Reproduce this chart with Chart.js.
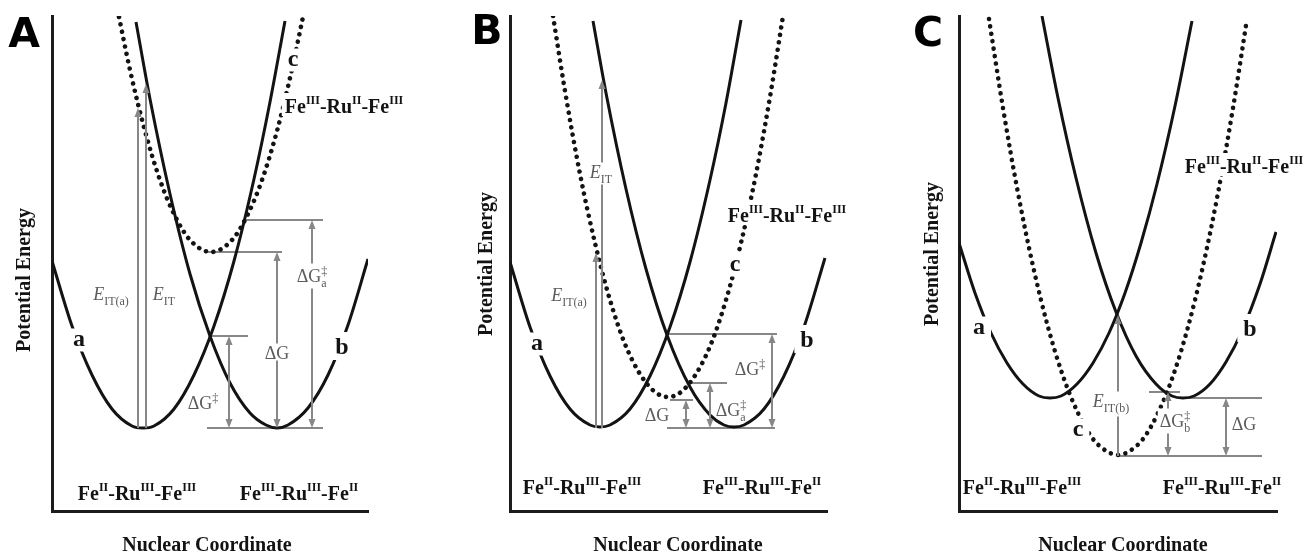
<!DOCTYPE html>
<html>
<head>
<meta charset="utf-8">
<script src="https://cdn.jsdelivr.net/npm/chart.js@4.4.1/dist/chart.umd.min.js"></script>
<style>
  html, body { margin: 0; padding: 0; background: #fff; }
  #wrap { position: relative; width: 1304px; height: 552px; overflow: hidden; background: #fff; }
  #wrap canvas { position: absolute; top: 0; }
</style>
</head>
<body>
<div id="wrap">
  <canvas id="panelA" width="440" height="552" style="left:0px"></canvas>
  <canvas id="panelB" width="440" height="552" style="left:440px"></canvas>
  <canvas id="panelC" width="424" height="552" style="left:880px"></canvas>
</div>
<script>
// energy (y) against nuclear coordinate (x), arbitrary units
var yMax = 495;

// panel A
var aCurveA = [[0,250],[20,185],[40,136],[60,102],[80,85],[91,83],[102,85],[122,102],[142,136],[162,185],[182,250],[202,332],[218,409],[233,490]];
var aCurveB = [[84,489],[98,412],[118,317],[138,237],[158,175],[178,128],[198,98],[214,86],[225,83],[236,86],[256,103],[276,136],[296,186],[316,252]];
var aCurveC = [[67,494],[78,441],[93,380],[108,331],[123,295],[138,271],[159,259],[180,271],[195,295],[210,331],[225,380],[238,433],[251,494]];
var aGuides = [[158,196,175],[155,230,259],[193,271,291],[155,271,83]];
var aArrows = [[86,83,403,'up'],[94,83,427,'up'],[177,83,175,'both'],[225,83,259,'both'],[260,83,291,'both']];
var aLabels = [
    ['A', -28, 479, 'panel'],
    ['Potential Energy', -27, 231, 'axisY'],
    ['Nuclear Coordinate', 155, -32, 'axisX'],
    ['a', 27, 171, 'curve', true],
    ['b', 290, 165, 'curve', true],
    ['c', 241, 451, 'curve', true],
    ['Fe^{III}-Ru^{II}-Fe^{III}', 292, 405, 'state', true],
    ['Fe^{II}-Ru^{III}-Fe^{III}', 85, 18, 'state'],
    ['Fe^{III}-Ru^{III}-Fe^{II}', 247, 18, 'state'],
    ['*E*_{IT(a)}', 59, 218, 'note'],
    ['*E*_{IT}', 112, 218, 'note'],
    ['ΔG^{‡}', 151, 109, 'note'],
    ['ΔG', 225, 159, 'note', true],
    ['ΔG^{‡}_{a}', 260, 236, 'note', true]
];

// panel B
var bCurveA = [[0,249],[20,184],[40,135],[60,102],[80,86],[90,84],[100,86],[120,102],[140,135],[160,184],[180,249],[200,331],[216,408],[231,491]];
var bCurveB = [[83,490],[96,418],[116,322],[136,242],[157,176],[180,124],[200,96],[214,86],[224,84],[234,86],[254,102],[274,135],[294,184],[315,253]];
var bCurveC = [[43,495],[55,420],[70,337],[85,268],[100,211],[115,167],[130,137],[145,119],[158,114],[171,119],[186,137],[201,167],[216,211],[231,268],[246,337],[261,420],[273,495]];
var bGuides = [[157,267,177],[182,217,128],[160,183,111],[157,265,83]];
var bArrows = [[86,83,258,'up'],[92,83,431,'up'],[176,83,111,'both'],[200,83,128,'both'],[262,83,177,'both']];
var bLabels = [
    ['B', -23, 482, 'panel'],
    ['Potential Energy', -23, 247, 'axisY'],
    ['Nuclear Coordinate', 168, -32, 'axisX'],
    ['a', 27, 167, 'curve', true],
    ['b', 297, 172, 'curve', true],
    ['c', 225, 246, 'curve', true],
    ['Fe^{III}-Ru^{II}-Fe^{III}', 277, 296, 'state', true],
    ['Fe^{II}-Ru^{III}-Fe^{III}', 72, 24, 'state'],
    ['Fe^{III}-Ru^{III}-Fe^{II}', 252, 24, 'state'],
    ['*E*_{IT}', 91, 340, 'note', true],
    ['*E*_{IT(a)}', 59, 217, 'note'],
    ['ΔG', 147, 97, 'note'],
    ['ΔG^{‡}_{a}', 221, 102, 'note'],
    ['ΔG^{‡}', 240, 143, 'note']
];

// panel C
var cCurveA = [[0,268],[16,218],[32,178],[48,148],[64,127],[80,115],[91,113],[102,115],[118,127],[134,148],[150,178],[166,218],[182,268],[198,327],[216,405],[233,490]];
var cCurveB = [[83,495],[99,413],[117,333],[137,258],[157,199],[177,155],[197,127],[213,115],[224,113],[235,115],[251,127],[267,149],[283,180],[301,227],[317,279]];
var cCurveC = [[30,492],[44,403],[59,318],[74,245],[89,184],[104,135],[119,98],[134,72],[149,59],[159,56],[169,59],[184,72],[199,98],[214,135],[229,184],[244,245],[259,318],[274,403],[288,492]];
var cGuides = [[190,221,119],[224,303,113],[161,303,55]];
var cArrows = [[159,55,196,'up'],[267,55,113,'both'],[209,55,119,'both']];
var cLabels = [
    ['C', -31, 480, 'panel'],
    ['Potential Energy', -26, 257, 'axisY'],
    ['Nuclear Coordinate', 164, -32, 'axisX'],
    ['a', 20, 183, 'curve', true],
    ['b', 291, 183, 'curve', true],
    ['c', 119, 81, 'curve', true],
    ['Fe^{III}-Ru^{II}-Fe^{III}', 285, 345, 'state', true],
    ['Fe^{II}-Ru^{III}-Fe^{III}', 63, 24, 'state'],
    ['Fe^{III}-Ru^{III}-Fe^{II}', 263, 24, 'state'],
    ['*E*_{IT(b)}', 152, 111, 'note', true],
    ['ΔG^{‡}_{b}', 216, 91, 'note', true],
    ['ΔG', 285, 88, 'note']
];

var INK = '#131313';
var GRAY_LINE = '#878787';
var GRAY_TEXT = '#5c5c5c';
var SERIF = '"Liberation Serif", "Times New Roman", serif';

var textStyles = {
    panel: { family: '"DejaVu Sans", sans-serif', weight: 'bold', size: 41, small: 20, rise: 0, drop: 0, color: '#000', pad: 0 },
    axisX: { family: SERIF, weight: 'bold', size: 20, small: 12, rise: 0, drop: 0, color: INK, pad: 0 },
    axisY: { family: SERIF, weight: 'bold', size: 20, small: 12, rise: 0, drop: 0, color: INK, pad: 0, rotate: true },
    curve: { family: SERIF, weight: 'bold', size: 24, small: 14, rise: 0, drop: 0, color: INK, pad: 6 },
    state: { family: SERIF, weight: 'bold', size: 20, small: 12, rise: 9, drop: 0, color: INK, pad: 3 },
    note:  { family: SERIF, weight: 'normal', size: 18, small: 12, rise: 7, drop: 5, color: GRAY_TEXT, pad: 2 }
};

function parseRich(str) {
    var runs = [], buf = '', italic = false, i = 0;
    while (i < str.length) {
        var ch = str[i];
        if ((ch === '^' || ch === '_') && str[i + 1] === '{') {
            if (buf) { runs.push({ t: buf, k: 'base', it: italic }); buf = ''; }
            var end = str.indexOf('}', i);
            runs.push({ t: str.slice(i + 2, end), k: ch === '^' ? 'sup' : 'sub', it: false });
            i = end + 1;
        } else if (ch === '*') {
            if (buf) { runs.push({ t: buf, k: 'base', it: italic }); buf = ''; }
            italic = !italic;
            i++;
        } else {
            buf += ch;
            i++;
        }
    }
    if (buf) runs.push({ t: buf, k: 'base', it: italic });
    return runs;
}

function drawRich(ctx, str, cx, cy, st, knockout) {
    var runs = parseRich(str);
    var x = 0, asc = 0, desc = 0, top = 0, bottom = 0;
    runs.forEach(function(r, i) {
        var size = r.k === 'base' ? st.size : st.small;
        r.font = (r.it ? 'italic ' : '') + st.weight + ' ' + size + 'px ' + st.family;
        ctx.font = r.font;
        var m = ctx.measureText(r.t);
        r.w = m.width;
        r.dy = r.k === 'sup' ? -st.rise : (r.k === 'sub' ? st.drop : 0);
        if (r.k === 'sub' && i > 0 && runs[i - 1].k === 'sup') {
            r.x = runs[i - 1].x;
            x = r.x + Math.max(r.w, runs[i - 1].w);
        } else {
            r.x = x;
            x += r.w;
        }
        if (r.k === 'base') {
            asc = Math.max(asc, m.actualBoundingBoxAscent);
            desc = Math.max(desc, m.actualBoundingBoxDescent);
        }
        top = Math.min(top, r.dy - m.actualBoundingBoxAscent);
        bottom = Math.max(bottom, r.dy + m.actualBoundingBoxDescent);
    });
    var width = x;

    ctx.save();
    ctx.translate(cx, cy);
    if (st.rotate) ctx.rotate(-Math.PI / 2);
    var left = -width / 2;
    var base = (asc - desc) / 2;
    if (knockout) {
        ctx.fillStyle = '#fff';
        ctx.fillRect(left - st.pad, base + top - st.pad, width + st.pad * 2, bottom - top + st.pad * 2);
    }
    ctx.fillStyle = st.color;
    ctx.textBaseline = 'alphabetic';
    ctx.textAlign = 'left';
    runs.forEach(function(r) {
        ctx.font = r.font;
        ctx.fillText(r.t, left + r.x, base + r.dy);
    });
    ctx.restore();
}

function drawHead(ctx, x, yTip, dir) {
    ctx.beginPath();
    ctx.moveTo(x, yTip);
    ctx.lineTo(x - 3.5, yTip - dir * 9);
    ctx.lineTo(x + 3.5, yTip - dir * 9);
    ctx.closePath();
    ctx.fill();
}

function makeAnnotator(arrows, labels) {
    return {
        id: 'annotate',
        afterDraw: function(chart) {
            var ctx = chart.ctx;
            var xs = chart.scales.x, ys = chart.scales.y;
            ctx.save();
            ctx.strokeStyle = GRAY_LINE;
            ctx.fillStyle = GRAY_LINE;
            ctx.lineWidth = 2;
            arrows.forEach(function(a) {
                var px = xs.getPixelForValue(a[0]);
                var pBottom = ys.getPixelForValue(a[1]);
                var pTop = ys.getPixelForValue(a[2]);
                ctx.beginPath();
                ctx.moveTo(px, a[3] === 'both' ? pBottom - 8 : pBottom);
                ctx.lineTo(px, pTop + 8);
                ctx.stroke();
                drawHead(ctx, px, pTop, -1);
                if (a[3] === 'both') drawHead(ctx, px, pBottom, 1);
            });
            ctx.restore();

            labels.forEach(function(l) {
                drawRich(ctx, l[0], xs.getPixelForValue(l[1]), ys.getPixelForValue(l[2]), textStyles[l[3]], !!l[4]);
            });
        }
    };
}

function toPoints(arr) {
    return arr.map(function(p) { return { x: p[0], y: p[1] }; });
}

function makePanel(id, xMax, padding, curves, guides, arrows, labels) {
    var datasets = [];
    curves.forEach(function(c, i) {
        var dotted = i === 2;
        datasets.push({
            data: toPoints(c),
            showLine: true,
            borderColor: INK,
            borderWidth: dotted ? 4.6 : 3,
            borderDash: dotted ? [0.01, 7.5] : [],
            borderCapStyle: dotted ? 'round' : 'butt',
            pointRadius: 0,
            cubicInterpolationMode: 'monotone',
            fill: false
        });
    });
    guides.forEach(function(g) {
        datasets.push({
            data: toPoints([[g[0], g[2]], [g[1], g[2]]]),
            showLine: true,
            borderColor: GRAY_LINE,
            borderWidth: 2,
            pointRadius: 0,
            fill: false
        });
    });

    var axis = function(max) {
        return {
            type: 'linear',
            min: 0,
            max: max,
            grid: { display: false, drawTicks: false },
            ticks: { display: false },
            border: { display: true, color: '#1c1c1c', width: 3 }
        };
    };

    return new Chart(document.getElementById(id), {
        type: 'scatter',
        data: { datasets: datasets },
        options: {
            responsive: false,
            animation: false,
            events: [],
            layout: { padding: padding },
            scales: { x: axis(xMax), y: axis(yMax) },
            plugins: { legend: { display: false }, tooltip: { enabled: false } }
        },
        plugins: [makeAnnotator(arrows, labels)]
    });
}

makePanel('panelA', 316, { left: 52, right: 72, top: 16, bottom: 41 }, [aCurveA, aCurveB, aCurveC], aGuides, aArrows, aLabels);
makePanel('panelB', 317, { left: 70, right: 53, top: 16, bottom: 41 }, [bCurveA, bCurveB, bCurveC], bGuides, bArrows, bLabels);
makePanel('panelC', 318, { left: 79, right: 27, top: 16, bottom: 41 }, [cCurveA, cCurveB, cCurveC], cGuides, cArrows, cLabels);
</script>
</body>
</html>
